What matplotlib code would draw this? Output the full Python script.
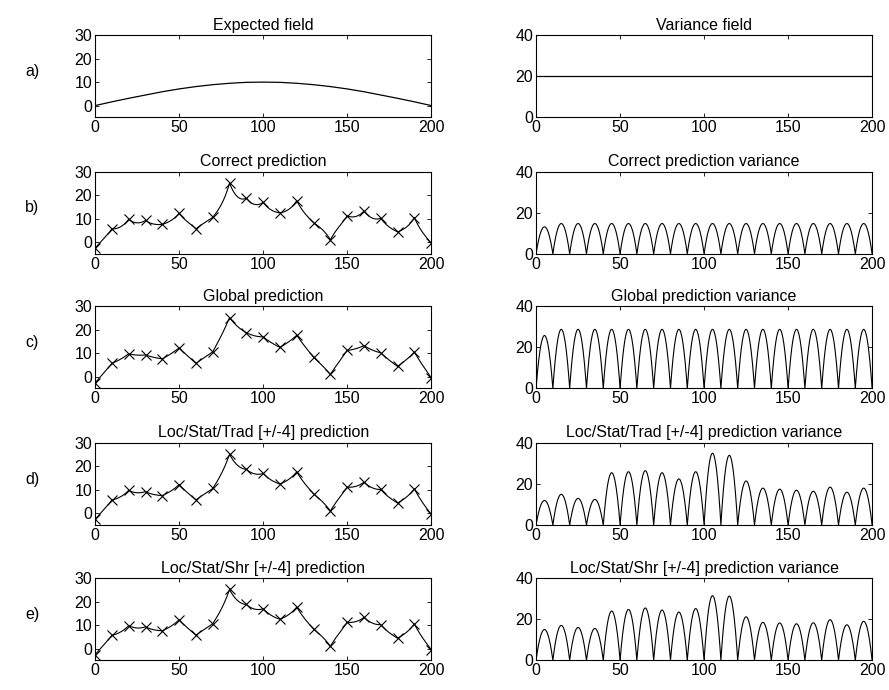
import numpy as np
import matplotlib
matplotlib.use("Agg")
import matplotlib.pyplot as plt

plt.rcParams['font.family'] = ['Liberation Sans', 'DejaVu Sans']
plt.rcParams['font.size'] = 11.5

x_obs = np.arange(0, 201, 10)
z_obs = [-2.6, 5.7, 9.8, 9.3, 7.6, 12.3, 5.7, 10.6, 25.2, 18.8, 17.0,
         12.5, 17.7, 8.3, 1.0, 11.2, 13.3, 10.2, 4.4, 10.5, -0.4]

# expected field sampled every 10
mean_field = [0, 1.6, 3.1, 4.5, 5.9, 7.1, 8.1, 8.9, 9.5, 9.9, 10.0,
              9.9, 9.5, 8.9, 8.1, 7.1, 5.9, 4.5, 3.1, 1.6, 0]
var_x = [0, 200]
var_field = [20, 20]

# peak variance between neighbouring observations
var_correct = [13.2] + [14.8] * 19
var_global = [25.8] + [28.8] * 19
var_trad = [12, 15, 13, 12.5, 25.5, 26, 26.5, 25.5, 22.5, 26,
            35, 34, 21.5, 18, 17.5, 17, 16.5, 18.5, 16, 18]
var_shr = [15, 17, 16, 15.5, 24, 24.8, 25.5, 24.5, 23.5, 25.2,
           31.5, 31.3, 21.2, 18.5, 18.2, 17.8, 18.3, 19.8, 17.3, 19]

row_labels = ["a)", "b)", "c)", "d)", "e)"]
left_titles = ["Expected field", "Correct prediction", "Global prediction",
               "Loc/Stat/Trad [+/-4] prediction", "Loc/Stat/Shr [+/-4] prediction"]
right_titles = ["Variance field", "Correct prediction variance",
                "Global prediction variance",
                "Loc/Stat/Trad [+/-4] prediction variance",
                "Loc/Stat/Shr [+/-4] prediction variance"]


def bridge_curve(xo, zo, mo, a, step=0.5):
    # smooth line through the observations, pulled toward the mean between them
    xs, ys = [], []
    for i in range(len(xo) - 1):
        d = xo[i + 1] - xo[i]
        t = np.arange(0, d, step)
        r0 = zo[i] - mo[i]
        r1 = zo[i + 1] - mo[i + 1]
        m = np.interp(xo[i] + t, xo, mo)
        r = (r0 * np.sinh(a * (d - t)) + r1 * np.sinh(a * t)) / np.sinh(a * d)
        xs.append(xo[i] + t)
        ys.append(m + r)
    xs.append([xo[-1]])
    ys.append([zo[-1]])
    return np.concatenate(xs), np.concatenate(ys)


def arches(xo, peaks, step=0.25):
    xs, ys = [], []
    for i, p in enumerate(peaks):
        t = np.arange(0, 1, step / (xo[i + 1] - xo[i]))
        xs.append(xo[i] + t * (xo[i + 1] - xo[i]))
        ys.append(p * 4 * t * (1 - t))
    xs.append([xo[-1]])
    ys.append([0])
    return np.concatenate(xs), np.concatenate(ys)


def style(ax):
    ax.tick_params(direction='in', top=True, right=True, length=3, width=0.6,
                   labelsize=11.5, pad=2)
    for s in ax.spines.values():
        s.set_linewidth(0.8)
    ax.set_xlim(0, 200)
    ax.set_xticks([0, 50, 100, 150, 200])


fig = plt.figure(figsize=(8.89, 6.9), dpi=100)
lx, rx, w = 0.107, 0.603, 0.378
tops = [0.949, 0.751, 0.556, 0.358, 0.162]
h = 0.119

smooth = [None, 0.15, 0.07, 0.11, 0.11]
var_peaks = [None, var_correct, var_global, var_trad, var_shr]

for k in range(5):
    bottom = tops[k] - h
    axl = fig.add_axes([lx, bottom, w, h])
    axr = fig.add_axes([rx, bottom, w, h])
    if k == 0:
        axl.plot(x_obs, mean_field, color='k', lw=0.9)
        axr.plot(var_x, var_field, color='k', lw=0.9)
    else:
        xf, yf = bridge_curve(x_obs, z_obs, mean_field, smooth[k])
        axl.plot(xf, yf, color='k', lw=0.8)
        axl.plot(x_obs, z_obs, 'x', color='k', ms=6.5, mew=0.8)
        xa, ya = arches(x_obs, var_peaks[k])
        axr.plot(xa, ya, color='k', lw=0.8)
    axl.set_ylim(-5, 30)
    axl.set_yticks([0, 10, 20, 30])
    axr.set_ylim(0, 40)
    axr.set_yticks([0, 20, 40])
    style(axl)
    style(axr)
    axl.set_title(left_titles[k], fontsize=11.5, pad=4)
    axr.set_title(right_titles[k], fontsize=11.5, pad=4)
    fig.text(0.036, bottom + h * 0.56, row_labels[k], fontsize=11.5,
             ha='center', va='center')

fig.savefig("out.png", dpi=100)
